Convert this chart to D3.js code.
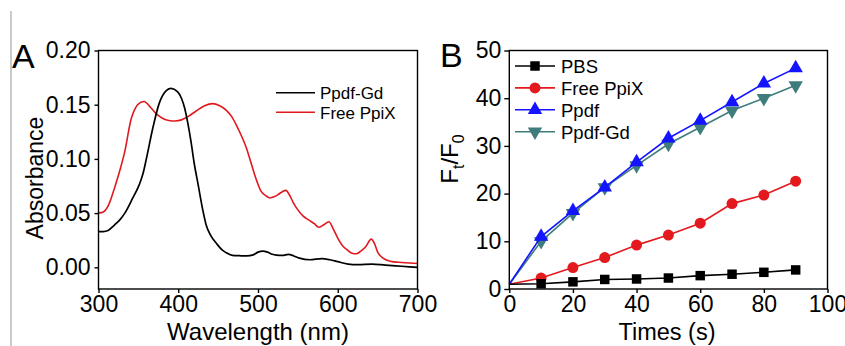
<!DOCTYPE html>
<html>
<head>
<meta charset="utf-8">
<script src="https://cdn.jsdelivr.net/npm/d3@7/dist/d3.min.js"></script>
<style>
  body { margin: 0; background: #fff; }
  svg { display: block; font-family: "Liberation Sans", Arial, sans-serif; }
</style>
</head>
<body>
<svg width="845" height="346"></svg>
<script>
// ---- panel A: absorbance spectra ----
var wlGd = [300,306,312,320,327,333,343,351,356,360,368,376,385,391,399,404,408,412,416,420,425,431,435,441,448,455,460,468,477,486,494,500,506,512,518,523,531,538,545,552,565,580,590,600,613,625,643,660,680,700];
var absGd = [0.033,0.033,0.034,0.039,0.044,0.050,0.064,0.076,0.087,0.100,0.128,0.151,0.163,0.165,0.162,0.156,0.147,0.133,0.116,0.096,0.076,0.052,0.039,0.029,0.022,0.016,0.0135,0.011,0.0107,0.0105,0.0115,0.014,0.015,0.014,0.012,0.0113,0.011,0.012,0.0105,0.0085,0.007,0.008,0.007,0.0052,0.003,0.0025,0.003,0.002,0.001,0.000];

var wlPpix = [300,306,313,320,327,333,341,345,349,357,366,372,379,388,396,404,412,422,433,443,452,460,467,473,480,486,491,496,504,510,515,520,525,531,535,540,544,550,557,565,571,576,582,589,594,600,606,612,618,623,629,635,642,646,650,656,662,670,680,690,700];
var absPpix = [0.050,0.051,0.058,0.073,0.090,0.107,0.137,0.145,0.150,0.153,0.147,0.142,0.138,0.1355,0.135,0.136,0.139,0.144,0.149,0.151,0.149,0.145,0.139,0.131,0.120,0.109,0.097,0.085,0.070,0.066,0.064,0.065,0.067,0.070,0.071,0.066,0.060,0.053,0.047,0.043,0.040,0.037,0.039,0.042,0.036,0.027,0.020,0.016,0.013,0.0125,0.015,0.019,0.026,0.022,0.014,0.009,0.0065,0.005,0.0045,0.004,0.0035];

var ticksA_x = [300,400,500,600,700];
var ticksA_y = [0,0.05,0.10,0.15,0.20];

// ---- panel B: fluorescence ratio ----
var times = [0,10,20,30,40,50,60,70,80,90];
var pbs = [1,1.1,1.5,2.0,2.1,2.3,2.8,3.1,3.5,4.0];
var freePpix = [1,2.3,4.5,6.6,9.2,11.3,13.8,17.9,19.7,22.6];
var ppdf = [1,11.0,16.4,21.3,26.6,31.6,35.3,39.2,43.1,46.3];
var ppdfGd = [1,10.0,15.9,21.3,25.9,30.4,33.9,37.4,40.0,42.7];

var ticksB_x = [0,20,40,60,80,100];
var ticksB_y = [0,10,20,30,40,50];

var svg = d3.select('svg');

// light grey rule at the left edge
svg.append('line')
  .attr('x1', 11).attr('x2', 11).attr('y1', 11).attr('y2', 346)
  .style('stroke', '#b8b8b8').style('stroke-width', 1.5);

function frame(g, x, y) {
  var xr = x.range(), yr = y.range();
  g.append('rect')
    .attr('x', xr[0]).attr('y', yr[1])
    .attr('width', xr[1] - xr[0]).attr('height', yr[0] - yr[1])
    .style('fill', 'none').style('stroke', '#000').style('stroke-width', 1.4);
}

function styleAxis(a) {
  a.select('.domain').remove();
  a.selectAll('line').style('stroke', '#000').style('stroke-width', 1.4);
  a.selectAll('text').style('font-size', '23px').style('fill', '#000')
    .style('font-family', '"Liberation Sans", Arial, sans-serif');
}

// ================= A =================
var xA = d3.scaleLinear().domain([300, 700]).range([98.5, 417.5]);
var yA = d3.scaleLinear().domain([-0.02, 0.20]).range([289, 50.5]);
var gA = svg.append('g');

gA.append('g').attr('transform', 'translate(0,289)')
  .call(d3.axisBottom(xA).tickValues(ticksA_x).tickSize(4).tickPadding(3))
  .call(styleAxis);
gA.append('g').attr('transform', 'translate(98.5,0)')
  .call(d3.axisLeft(yA).tickValues(ticksA_y).tickFormat(d3.format('.2f')).tickSize(4).tickPadding(4))
  .call(styleAxis);

var lineA = d3.line().curve(d3.curveMonotoneX)
  .x(function(d) { return xA(d[0]); })
  .y(function(d) { return yA(d[1]); });

gA.append('path').datum(d3.zip(wlPpix, absPpix))
  .attr('d', lineA).style('fill', 'none').style('stroke', '#e0191e').style('stroke-width', 1.6);
gA.append('path').datum(d3.zip(wlGd, absGd))
  .attr('d', lineA).style('fill', 'none').style('stroke', '#000').style('stroke-width', 1.7);

frame(gA, xA, yA);

var legA = [
  {name: 'Ppdf-Gd', color: '#000', y: 92.7},
  {name: 'Free PpiX', color: '#e0191e', y: 112.3}
];
legA.forEach(function(l) {
  gA.append('line').attr('x1', 276).attr('x2', 315).attr('y1', l.y).attr('y2', l.y)
    .style('stroke', l.color).style('stroke-width', 1.5);
  gA.append('text').attr('x', 320).attr('y', l.y + 6.5).text(l.name)
    .style('font-size', '17px');
});

gA.append('text').attr('x', 12).attr('y', 68).text('A').style('font-size', '34px');
gA.append('text').attr('transform', 'translate(43,178) rotate(-90)')
  .attr('text-anchor', 'middle').text('Absorbance').style('font-size', '23px');
gA.append('text').attr('x', 258).attr('y', 340)
  .attr('text-anchor', 'middle').text('Wavelength (nm)').style('font-size', '24px');

// ================= B =================
var xB = d3.scaleLinear().domain([0, 100]).range([509.3, 827.5]);
var yB = d3.scaleLinear().domain([0, 50]).range([289, 50.5]);
var gB = svg.append('g');

gB.append('g').attr('transform', 'translate(0,289)')
  .call(d3.axisBottom(xB).tickValues(ticksB_x).tickSize(4).tickPadding(3))
  .call(styleAxis);
gB.append('g').attr('transform', 'translate(509.3,0)')
  .call(d3.axisLeft(yB).tickValues(ticksB_y).tickSize(5).tickPadding(3))
  .call(styleAxis);

var seriesB = [
  {name: 'PBS', values: pbs, color: '#000', shape: d3.symbolSquare, size: 90, rot: 0},
  {name: 'Free PpiX', values: freePpix, color: '#e3191e', shape: d3.symbolCircle, size: 95, rot: 0},
  {name: 'Ppdf', values: ppdf, color: '#1414ff', shape: d3.symbolTriangle, size: 90, rot: 0},
  {name: 'Ppdf-Gd', values: ppdfGd, color: '#3e7d7b', shape: d3.symbolTriangle, size: 90, rot: 180}
];

var lineB = d3.line()
  .x(function(d) { return xB(d[0]); })
  .y(function(d) { return yB(d[1]); });

// draw in reverse so PBS sits on top, like the original
seriesB.slice().reverse().forEach(function(s) {
  var pts = d3.zip(times, s.values);
  gB.append('path').datum(pts).attr('d', lineB)
    .style('fill', 'none').style('stroke', s.color).style('stroke-width', 1.6);
  gB.selectAll(null).data(pts.slice(1)).enter().append('path')
    .attr('d', d3.symbol().type(s.shape).size(s.size))
    .attr('transform', function(d) {
      return 'translate(' + xB(d[0]) + ',' + yB(d[1]) + ') rotate(' + s.rot + ')';
    })
    .style('fill', s.color);
});

frame(gB, xB, yB);

seriesB.forEach(function(s, i) {
  var ly = 66 + i * 21.9;
  gB.append('line').attr('x1', 515).attr('x2', 555).attr('y1', ly).attr('y2', ly)
    .style('stroke', s.color).style('stroke-width', 1.6);
  gB.append('path').attr('d', d3.symbol().type(s.shape).size(s.size))
    .attr('transform', 'translate(535,' + ly + ') rotate(' + s.rot + ')')
    .style('fill', s.color);
  gB.append('text').attr('x', 561).attr('y', ly + 6.8).text(s.name)
    .style('font-size', '18.5px');
});

gB.append('text').attr('x', 440).attr('y', 67).text('B').style('font-size', '34px');

var yt = gB.append('text').attr('transform', 'translate(458,159) rotate(-90)')
  .attr('text-anchor', 'middle').style('font-size', '24px');
yt.append('tspan').text('F');
yt.append('tspan').text('t').attr('dy', 6).style('font-size', '16px');
yt.append('tspan').text('/F').attr('dy', -6);
yt.append('tspan').text('0').attr('dy', 6).style('font-size', '16px');

gB.append('text').attr('x', 667).attr('y', 340)
  .attr('text-anchor', 'middle').text('Times (s)').style('font-size', '23.5px');
</script>
</body>
</html>
